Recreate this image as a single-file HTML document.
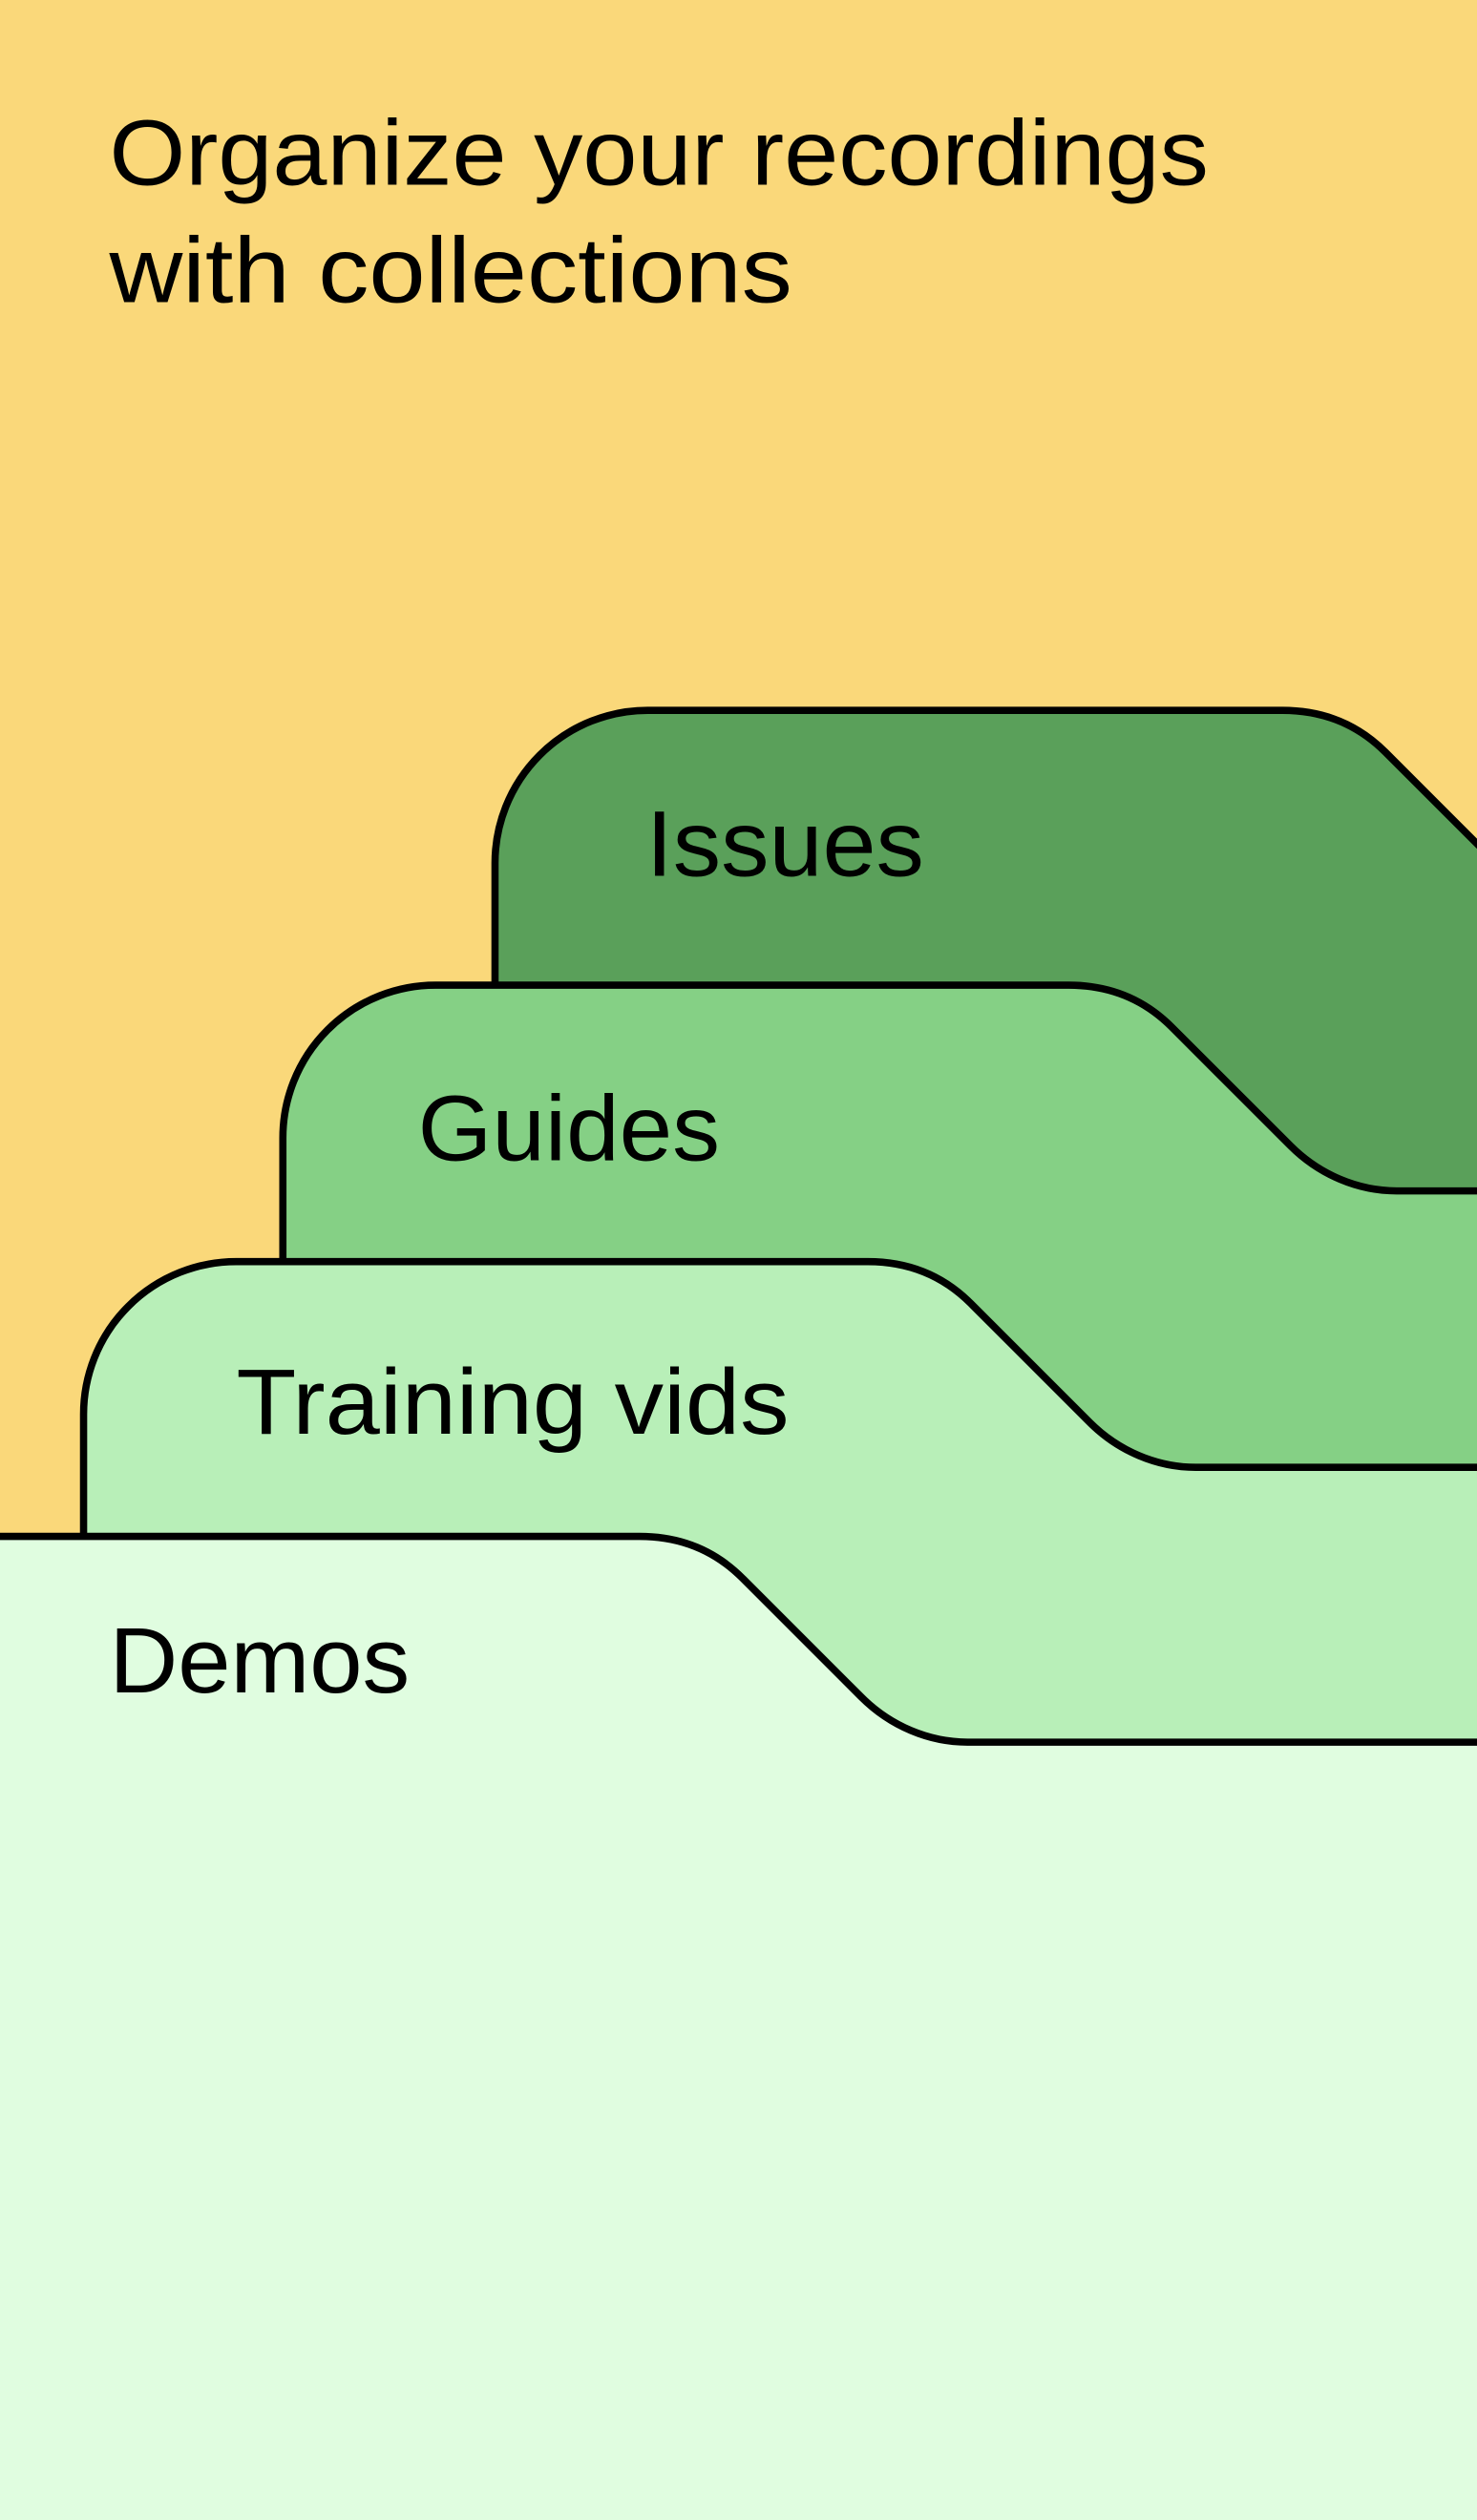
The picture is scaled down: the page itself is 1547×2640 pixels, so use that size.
<!DOCTYPE html>
<html><head><meta charset="utf-8"><style>
html,body{margin:0;padding:0;width:1547px;height:2640px;overflow:hidden;background:#fad87a}
svg{display:block}
text{font-family:"Liberation Sans",sans-serif;fill:#000}
</style></head><body>
<svg width="1547" height="2640" viewBox="0 0 919 1568" preserveAspectRatio="none">
<rect width="919" height="1568" fill="#fad87a"/>
<text x="68" y="115" font-size="58" textLength="684" lengthAdjust="spacingAndGlyphs">Organize your recordings</text>
<text x="68" y="188" font-size="58" textLength="425" lengthAdjust="spacingAndGlyphs">with collections</text>

<path d="M308 1600 V537 A95 95 0 0 1 403 442 H798 C822 442 844 450 862 468 L936 542 V1600 Z" fill="#5aa05a" stroke="#000" stroke-width="4.5"/>
<path d="M176 1600 V708 A95 95 0 0 1 271 613 H665 C689 613 711 621 729 639 L803 713 C821 731 845 741 869 741 H930 V1600 Z" fill="#85d085" stroke="#000" stroke-width="4.5"/>
<path d="M52 1600 V880 A95 95 0 0 1 147 785 H540 C564 785 586 793 604 811 L678 885 C696 903 720 913 744 913 H930 V1600 Z" fill="#b8efb8" stroke="#000" stroke-width="4.5"/>
<path d="M-5 1600 V956 H398 C422 956 444 964 462 982 L536 1056 C554 1074 578 1084 602 1084 H930 V1600 Z" fill="#e0fde0" stroke="#000" stroke-width="4.5"/>

<text x="402" y="545" font-size="58" textLength="173" lengthAdjust="spacingAndGlyphs">Issues</text>
<text x="260" y="722" font-size="58" textLength="188" lengthAdjust="spacingAndGlyphs">Guides</text>
<text x="147" y="892" font-size="58" textLength="344" lengthAdjust="spacingAndGlyphs">Training vids</text>
<text x="68" y="1053" font-size="58" textLength="187" lengthAdjust="spacingAndGlyphs">Demos</text>
</svg>
</body></html>
